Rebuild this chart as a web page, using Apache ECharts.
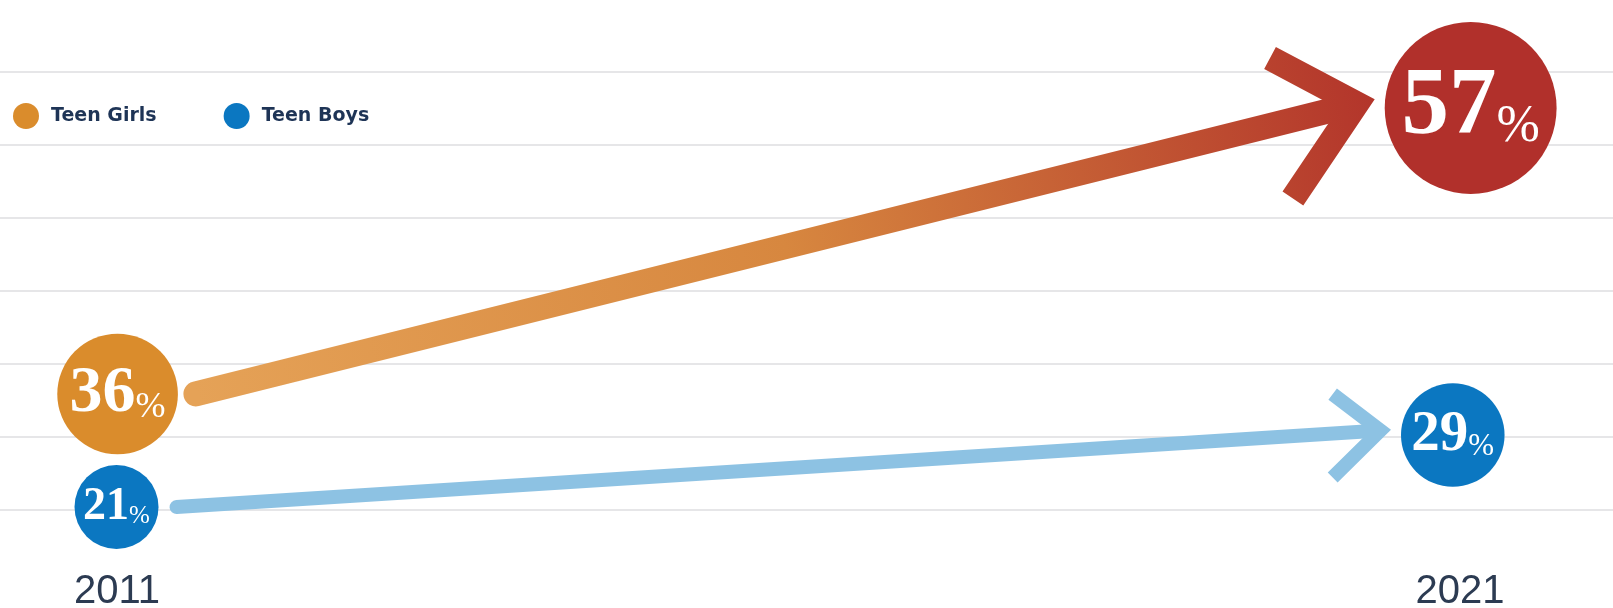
<!DOCTYPE html>
<html><head><meta charset="utf-8">
<script src="https://cdn.jsdelivr.net/npm/echarts@6/dist/echarts.min.js"></script>
<style>html,body{margin:0;padding:0;background:#fff}#c{width:1613px;height:608px}</style>
</head><body><div id="c"></div>
<script>
// ---- data ----
const years = [2011, 2021];
const teenGirls = [36, 57];
const teenBoys = [21, 29];
const legendNames = ['Teen Girls', 'Teen Boys'];

// ---- styling ----
const girlsColors = ['#DA8C2C', '#B1302B'];
const boysColors = ['#0B77C1', '#0B77C1'];
const girlsArrowStops = [
  {offset: 0, color: '#E5A257'},
  {offset: 0.5, color: '#D7873F'},
  {offset: 1, color: '#B3352B'}
];
const boysArrowStops = [
  {offset: 0, color: '#8DC2E3'},
  {offset: 1, color: '#8DC2E3'}
];

function radius(v) { return 16.4 + 1.22 * v; }

function pointLabel(v) {
  const r = radius(v);
  return {
    show: true,
    position: 'inside',
    formatter: '{n|' + v + '}{p|%}',
    rich: {
      n: {fontFamily: 'Liberation Serif', fontWeight: 'bold', fontSize: Math.round(r * 1.1), color: '#fff'},
      p: {fontFamily: 'Liberation Serif', fontSize: Math.round(r * 0.6), color: '#fff', verticalAlign: 'bottom', padding: [0, 0, Math.round(r * 0.02), 0]}
    }
  };
}

function scatterSeries(name, values, xIdx, yIdx, colors) {
  return {
    type: 'scatter',
    name: name,
    xAxisIndex: xIdx,
    yAxisIndex: yIdx,
    z: 3,
    itemStyle: {color: colors[0], opacity: 1},
    symbolSize: function (val) { return 2 * radius(val[1]); },
    data: values.map(function (v, i) {
      return {value: [years[i], v], itemStyle: {color: colors[i]}, label: pointLabel(v)};
    }),
    emphasis: {disabled: true}
  };
}

function arrowSeries(name, values, xIdx, yIdx, width, armUp, armDown, halfDeg, stops) {
  return {
    type: 'custom',
    name: name,
    xAxisIndex: xIdx,
    yAxisIndex: yIdx,
    silent: true,
    z: 2,
    data: [[years[0], values[0], years[1], values[1]]],
    encode: {x: [0, 2], y: [1, 3]},
    renderItem: function (params, api) {
      const v1 = api.value(1), v2 = api.value(3);
      const p1 = api.coord([api.value(0), v1]);
      const p2 = api.coord([api.value(2), v2]);
      const r1 = radius(v1), r2 = radius(v2);
      const s = [p1[0] + r1 + 18, p1[1]];
      const t = [p2[0] - r2 - 10, p2[1] - 0.1 * r2];
      const dx = t[0] - s[0], dy = t[1] - s[1];
      const len = Math.sqrt(dx * dx + dy * dy);
      const ux = dx / len, uy = dy / len;
      const half = halfDeg * Math.PI / 180;
      const back = (width / 2) / Math.sin(half);
      const vtx = [t[0] - ux * back, t[1] - uy * back];
      const bx = -ux, by = -uy;
      function rot(a) {
        return [bx * Math.cos(a) - by * Math.sin(a), bx * Math.sin(a) + by * Math.cos(a)];
      }
      const ra = rot(half), rb = rot(-half);
      const a1 = [vtx[0] + ra[0] * armUp, vtx[1] + ra[1] * armUp];
      const a2 = [vtx[0] + rb[0] * armDown, vtx[1] + rb[1] * armDown];
      const grad = new echarts.graphic.LinearGradient(s[0], s[1], t[0], t[1], stops, true);
      const endShaft = [vtx[0] - ux * 4, vtx[1] - uy * 4];
      return {
        type: 'group',
        children: [
          {type: 'line', shape: {x1: s[0], y1: s[1], x2: endShaft[0], y2: endShaft[1]},
            style: {stroke: grad, lineWidth: width, lineCap: 'round', fill: null}},
          {type: 'polyline', shape: {points: [a1, vtx, a2]},
            style: {stroke: grad, lineWidth: width, lineJoin: 'miter', miterLimit: 10, lineCap: 'butt', fill: null}}
        ]
      };
    }
  };
}

const hiddenX = function (min, max) {
  return {type: 'value', min: min, max: max, show: false, splitLine: {show: false}};
};

const chart = echarts.init(document.getElementById('c'));
chart.setOption({
  backgroundColor: '#ffffff',
  animation: false,
  grid: {left: 0, right: 0, top: 72, bottom: 98, outerBoundsMode: 'none'},
  legend: {
    data: legendNames,
    left: 8, top: 98,
    icon: 'circle',
    itemWidth: 26, itemHeight: 26,
    itemGap: 67,
    selectedMode: false,
    textStyle: {fontFamily: 'DejaVu Sans', fontWeight: 'bold', fontSize: 19, color: '#1E3456', padding: [0, 0, 0, 7]}
  },
  xAxis: [
    {
      type: 'value',
      min: 2010.129, max: 2022.139,
      axisLine: {show: false},
      axisTick: {show: false},
      splitLine: {show: false},
      axisLabel: {
        customValues: years,
        formatter: function (v) { return String(v); },
        margin: 62,
        fontFamily: 'Liberation Sans',
        fontSize: 40,
        color: '#2C3B52'
      }
    },
    hiddenX(2010.131, 2022.052),
    hiddenX(2010.128, 2022.199)
  ],
  yAxis: [
    {type: 'value', min: 0, max: 6, interval: 1,
      axisLine: {show: false}, axisTick: {show: false}, axisLabel: {show: false},
      splitLine: {show: true, lineStyle: {color: '#E6E6E8', width: 2}}},
    {type: 'value', min: 27.48, max: 59.64, show: false, splitLine: {show: false}},
    {type: 'value', min: 20.67, max: 69.33, show: false, splitLine: {show: false}}
  ],
  series: [
    arrowSeries('girls-arrow', teenGirls, 1, 1, 25, 98, 114, 42, girlsArrowStops),
    arrowSeries('boys-arrow', teenBoys, 2, 2, 14, 60, 67, 41, boysArrowStops),
    scatterSeries(legendNames[0], teenGirls, 1, 1, girlsColors),
    scatterSeries(legendNames[1], teenBoys, 2, 2, boysColors)
  ]
});
</script>
</body></html>
